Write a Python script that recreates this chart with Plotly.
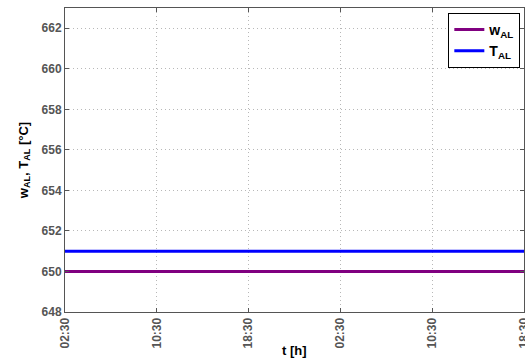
import plotly.graph_objects as go

times = ["2015-01-01 02:30", "2015-01-01 10:30", "2015-01-01 18:30",
         "2015-01-02 02:30", "2015-01-02 10:30", "2015-01-02 18:30"]
w_al = [650, 650, 650, 650, 650, 650]
t_al = [651, 651, 651, 651, 651, 651]
tick_labels = ["02:30", "10:30", "18:30", "02:30", "10:30", "18:30"]
y_ticks = [648, 650, 652, 654, 656, 658, 660, 662]

fig = go.Figure()
fig.add_trace(go.Scatter(x=times, y=w_al, mode="lines", name="w<sub>AL</sub>",
                         line=dict(color="#800080", width=3)))
fig.add_trace(go.Scatter(x=times, y=t_al, mode="lines", name="T<sub>AL</sub>",
                         line=dict(color="#0000FF", width=3)))

font_family = "Liberation Sans, Arial, sans-serif"
grey = "#555555"
fig.update_layout(
    width=525, height=364,
    margin=dict(l=65, r=1, t=8, b=52),
    paper_bgcolor="white", plot_bgcolor="white",
    font=dict(family=font_family, size=12, color=grey, weight="bold"),
    legend=dict(x=0.992, xanchor="right", y=0.984, yanchor="top",
                bordercolor="black", borderwidth=1, bgcolor="white",
                font=dict(family=font_family, size=14, color="black", weight="bold"),
                tracegroupgap=0, itemwidth=30),
    showlegend=True,
)
fig.update_xaxes(
    range=[times[0], times[-1]],
    tickvals=times, ticktext=tick_labels, tickangle=-90,
    ticklabeloverflow="allow",
    showline=True, linecolor=grey, linewidth=1, mirror="ticks",
    ticks="inside", ticklen=4, tickcolor=grey,
    showgrid=True, gridcolor="#b8b8b8", griddash="1px,3px", gridwidth=1,
    zeroline=False, automargin=False,
    tickfont=dict(size=12, color=grey, weight="bold"),
)
fig.update_yaxes(
    range=[648, 663],
    tickvals=y_ticks,
    showline=True, linecolor=grey, linewidth=1, mirror="ticks",
    ticks="inside", ticklen=4, tickcolor=grey,
    showgrid=True, gridcolor="#b8b8b8", griddash="1px,3px", gridwidth=1,
    zeroline=False, automargin=False,
    title=dict(text="w<sub>AL</sub>, T<sub>AL</sub> [°C]",
               font=dict(size=13, color="black", weight="bold"), standoff=10),
    tickfont=dict(size=12, color=grey, weight="bold"),
)
fig.add_annotation(text="t [h]", xref="paper", yref="paper", x=0.5, y=-(350 - 312) / 304,
                   xanchor="center", yanchor="middle", showarrow=False,
                   font=dict(size=13, color="black", weight="bold"))

fig.write_html("out.html", config={"displayModeBar": False},
               post_script="document.body.style.margin='0';")
